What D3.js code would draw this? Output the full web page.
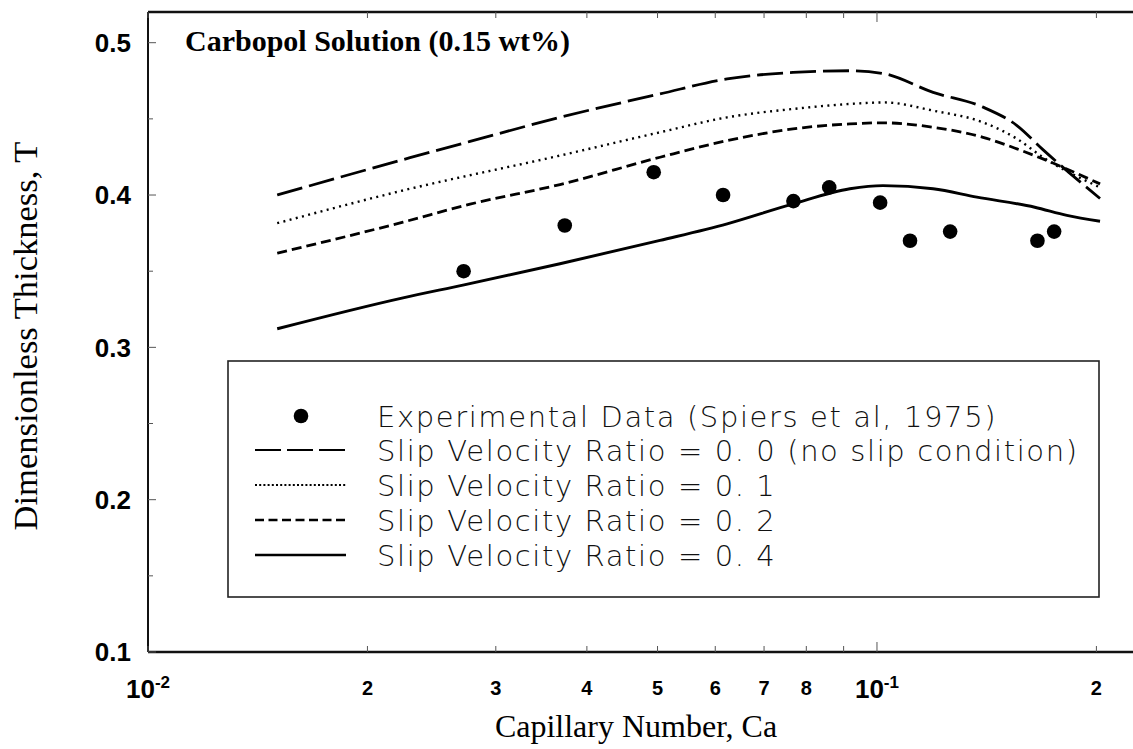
<!DOCTYPE html>
<html><head><meta charset="utf-8">
<script src="https://cdn.jsdelivr.net/npm/d3@7"></script>
<style>body{margin:0;background:#fff}svg{display:block}</style>
</head><body>
<svg id="c" width="1133" height="749"></svg>
<script>
// ---- data ----
const expCa = [0.0271, 0.0373, 0.0494, 0.0615, 0.0768, 0.086, 0.101, 0.111, 0.126, 0.166, 0.175];
const expT  = [0.350, 0.380, 0.415, 0.400, 0.396, 0.405, 0.395, 0.370, 0.376, 0.370, 0.376];

const s00Ca = [0.01504, 0.02288, 0.02766, 0.03674, 0.0504, 0.0623, 0.0767, 0.0918, 0.1019, 0.1194, 0.1398, 0.1556, 0.1689, 0.2023];
const s00T  = [0.400, 0.4245, 0.4352, 0.451, 0.4664, 0.4762, 0.4805, 0.4816, 0.4798, 0.4674, 0.4577, 0.4456, 0.4298, 0.3977];

const s01Ca = [0.01504, 0.02238, 0.03674, 0.0504, 0.0623, 0.0767, 0.0918, 0.1024, 0.1194, 0.1398, 0.1556, 0.1689, 0.2023];
const s01T  = [0.3815, 0.403, 0.4259, 0.4412, 0.451, 0.4565, 0.4598, 0.4608, 0.4554, 0.4477, 0.4369, 0.4248, 0.405];

const s02Ca = [0.01504, 0.02238, 0.02766, 0.03674, 0.0504, 0.0623, 0.0767, 0.0918, 0.1019, 0.1194, 0.1398, 0.1556, 0.1689, 0.2023];
const s02T  = [0.3618, 0.3822, 0.394, 0.4069, 0.4248, 0.4357, 0.4434, 0.4467, 0.4474, 0.4445, 0.4379, 0.4303, 0.4237, 0.4073];

const s04Ca = [0.01504, 0.02238, 0.02714, 0.03674, 0.0504, 0.0623, 0.0767, 0.0918, 0.1019, 0.1194, 0.1371, 0.1646, 0.1822, 0.2023];
const s04T  = [0.3122, 0.3325, 0.341, 0.3549, 0.3702, 0.3811, 0.3942, 0.4041, 0.4062, 0.4041, 0.3986, 0.392, 0.3866, 0.3828];

const legendLabels = [
  "Experimental Data (Spiers et al, 1975)",
  "Slip Velocity Ratio = 0. 0 (no slip condition)",
  "Slip Velocity Ratio = 0. 1",
  "Slip Velocity Ratio = 0. 2",
  "Slip Velocity Ratio = 0. 4"
];
const xTickVals   = [0.01, 0.02, 0.03, 0.04, 0.05, 0.06, 0.07, 0.08, 0.1, 0.2];
const xTickLabels = ["10|-2", "2", "3", "4", "5", "6", "7", "8", "10|-1", "2"];
const xMinorVals  = [0.09];
const yTickVals   = [0.1, 0.2, 0.3, 0.4, 0.5];
const yTickLabels = ["0.1", "0.2", "0.3", "0.4", "0.5"];
const yMinorVals  = [0.15, 0.25, 0.35, 0.45];
const titleText = "Carbopol Solution (0.15 wt%)";
const xTitle = "Capillary Number, Ca";
const yTitle = "Dimensionless Thickness, T";

// ---- layout ----
const L = 148, T0 = 12, B = 652;
const svg = d3.select("#c");
const x = d3.scaleLog().domain([0.01, 0.2245]).range([L, 1133]);
const y = d3.scaleLinear().domain([0.1, 0.5]).range([B, 42.7]);

const styles = [
  {dash: "26,7", w: 2.8},
  {dash: "2,4.4", w: 2.4},
  {dash: "10,5", w: 2.8},
  {dash: null, w: 2.9}
];
const series = [
  {ca: s00Ca, t: s00T},
  {ca: s01Ca, t: s01T},
  {ca: s02Ca, t: s02T},
  {ca: s04Ca, t: s04T}
];

// frame
const frame = svg.append("g").attr("stroke", "#111").attr("fill", "none");
frame.append("line").attr("x1", L).attr("x2", 1133).attr("y1", T0).attr("y2", T0).attr("stroke-width", 2.4);
frame.append("line").attr("x1", L).attr("x2", 1133).attr("y1", B).attr("y2", B).attr("stroke-width", 2.4);
frame.append("line").attr("x1", L).attr("x2", L).attr("y1", T0).attr("y2", B).attr("stroke-width", 2);

// ticks (inward)
const tk = svg.append("g").attr("stroke", "#555").attr("stroke-width", 1);
yTickVals.forEach(v => tk.append("line").attr("x1", L).attr("x2", L + 8).attr("y1", y(v)).attr("y2", y(v)));
yMinorVals.forEach(v => tk.append("line").attr("x1", L).attr("x2", L + 5).attr("y1", y(v)).attr("y2", y(v)));
xTickVals.concat(xMinorVals).forEach(v => {
  const len = (v === 0.1) ? 10 : 6;
  tk.append("line").attr("x1", x(v)).attr("x2", x(v)).attr("y1", B).attr("y2", B - len);
  tk.append("line").attr("x1", x(v)).attr("x2", x(v)).attr("y1", T0).attr("y2", T0 + len);
});

// y tick labels
svg.append("g").selectAll("text").data(yTickVals).join("text")
  .attr("x", 131).attr("y", d => y(d)).attr("dy", "0.36em")
  .attr("text-anchor", "end")
  .attr("font-family", "Liberation Sans, Arial, sans-serif").attr("font-weight", "bold")
  .attr("font-size", 26).attr("fill", "#000")
  .text((d, i) => yTickLabels[i]);

// x tick labels
const xl = svg.append("g").attr("font-family", "Liberation Sans, Arial, sans-serif").attr("font-weight", "bold").attr("fill", "#000");
xTickVals.forEach((v, i) => {
  const lab = xTickLabels[i];
  if (lab.includes("|")) {
    const [base, exp] = lab.split("|");
    const t = xl.append("text").attr("x", x(v)).attr("y", 698).attr("text-anchor", "middle").attr("font-size", 26);
    t.append("tspan").text(base);
    t.append("tspan").attr("font-size", 17).attr("dy", -10).text(exp);
  } else {
    xl.append("text").attr("x", x(v)).attr("y", 695).attr("text-anchor", "middle").attr("font-size", 20).text(lab);
  }
});

// axis titles
svg.append("text").attr("x", 636).attr("y", 737).attr("text-anchor", "middle")
  .attr("font-family", "Liberation Serif, Times New Roman, serif").attr("font-size", 32).attr("fill", "#000").text(xTitle);
svg.append("text").attr("transform", "translate(37,336) rotate(-90)").attr("text-anchor", "middle")
  .attr("font-family", "Liberation Serif, Times New Roman, serif").attr("font-size", 34.5).attr("fill", "#000").text(yTitle);

// title
svg.append("text").attr("x", 185).attr("y", 51)
  .attr("font-family", "Liberation Serif, Times New Roman, serif").attr("font-weight", "bold")
  .attr("font-size", 30).attr("fill", "#000").text(titleText);

// curves
const line = d3.line().x(d => x(d[0])).y(d => y(d[1])).curve(d3.curveMonotoneX);
series.forEach((s, i) => {
  const pts = s.ca.map((c, j) => [c, s.t[j]]);
  svg.append("path").datum(pts).attr("d", line)
    .attr("fill", "none").attr("stroke", "#000").attr("stroke-width", styles[i].w)
    .attr("stroke-dasharray", styles[i].dash).attr("stroke-linecap", "butt");
});

// experimental points
svg.append("g").selectAll("circle").data(expCa).join("circle")
  .attr("cx", d => x(d)).attr("cy", (d, i) => y(expT[i])).attr("r", 7.3).attr("fill", "#000");

// legend
const lg = svg.append("g");
lg.append("rect").attr("x", 228).attr("y", 361).attr("width", 871).attr("height", 236)
  .attr("fill", "#fff").attr("stroke", "#222").attr("stroke-width", 1.6);
const rowY = [416, 450, 485, 520, 555];
lg.append("circle").attr("cx", 301).attr("cy", rowY[0]).attr("r", 7.3).attr("fill", "#000");
const legStyles = [
  {dash: "26,6", w: 2},
  {dash: "2,2.2", w: 2},
  {dash: "9,4.5", w: 2.4},
  {dash: null, w: 2.6}
];
legStyles.forEach((st, i) => {
  lg.append("line").attr("x1", 255).attr("x2", 346).attr("y1", rowY[i + 1]).attr("y2", rowY[i + 1])
    .attr("stroke", "#000").attr("stroke-width", st.w).attr("stroke-dasharray", st.dash);
});
const texts = legendLabels.map((lab, i) => lg.append("text").attr("x", 377).attr("y", rowY[i] + 11)
  .attr("font-family", "DejaVu Sans, sans-serif").attr("font-size", 29).attr("font-weight", 300)
  .attr("fill", "#111").text(lab));
const w0 = texts[1].node().getComputedTextLength();
const ls = (700 - w0) / (legendLabels[1].length - 1);
texts.forEach(t => t.attr("letter-spacing", ls));
</script>
</body></html>
